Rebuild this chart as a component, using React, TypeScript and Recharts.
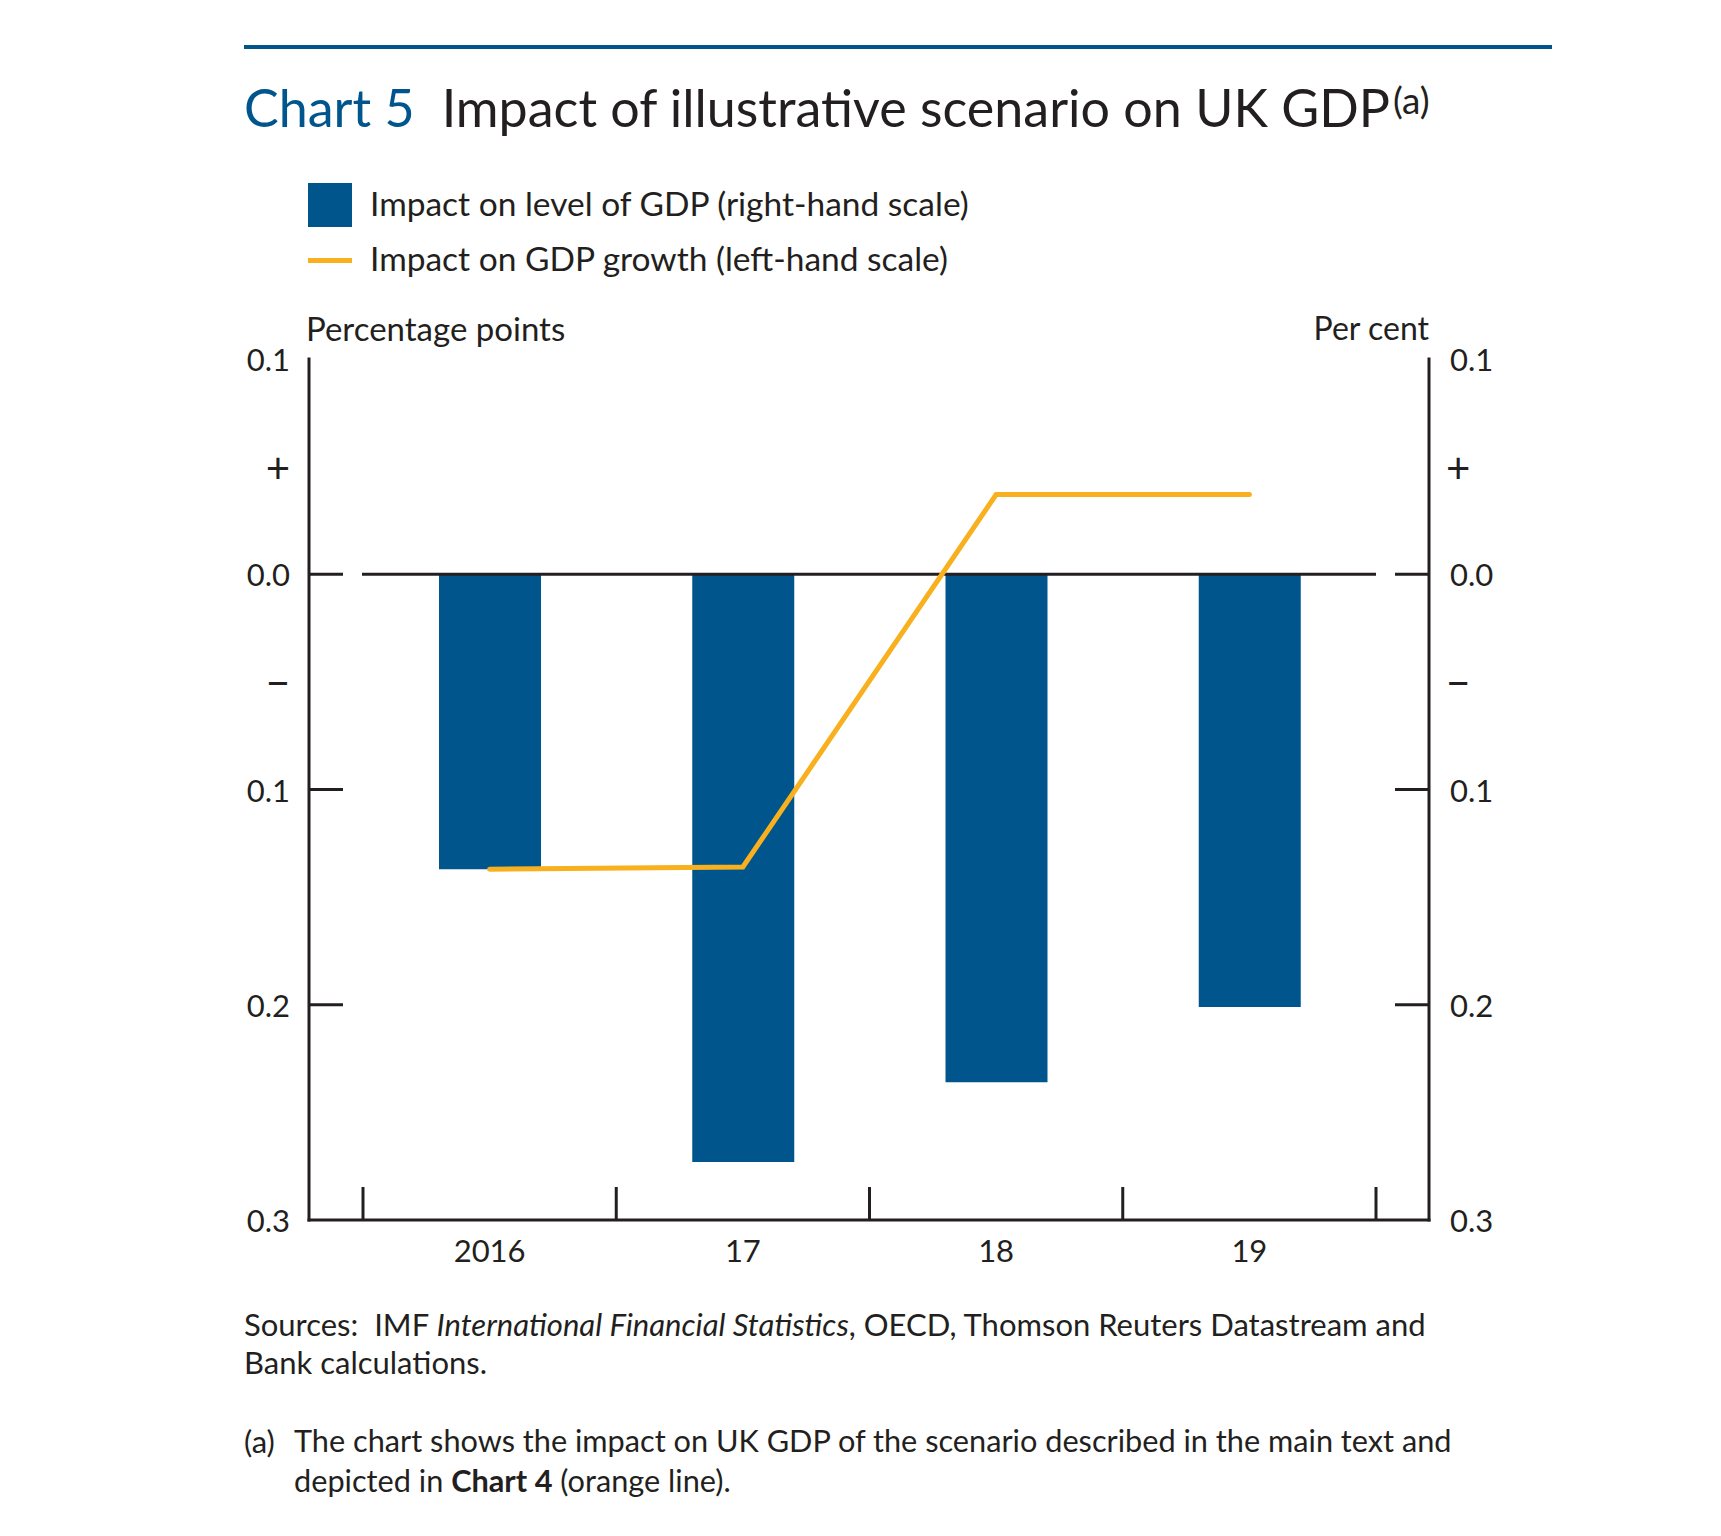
import { ComposedChart, Bar, Line, XAxis, YAxis, ReferenceLine } from "recharts";

// years on the x axis
const years = ["2016", "17", "18", "19"];
// impact on level of GDP, per cent (right-hand scale)
const levelImpact = [-0.137, -0.273, -0.236, -0.201];
// impact on GDP growth, percentage points (left-hand scale)
const growthImpact = [-0.137, -0.136, 0.037, 0.037];
const yTicks = [0.1, 0.05, 0, -0.05, -0.1, -0.2, -0.3];
const markedTicks = [0, -0.1, -0.2];

const data = years.map((year, i) => ({
  year,
  level: levelImpact[i],
  growth: growthImpact[i],
}));

const BLUE = "#00568C";
const ORANGE = "#F9B01E";
const INK = "#231F20";
const FONT = "Lato, 'Noto Sans', sans-serif";

function tickText(v: number) {
  if (Math.abs(v - 0.05) < 1e-9) return "+";
  if (Math.abs(v + 0.05) < 1e-9) return "\u2212";
  return Math.abs(v).toFixed(1);
}

function isSign(v: number) {
  return Math.abs(Math.abs(v) - 0.05) < 1e-9;
}

function hasMark(v: number) {
  return markedTicks.some((m) => Math.abs(m - v) < 1e-9);
}

const LeftTick = (props: any) => {
  const { x, y, payload } = props;
  const sign = isSign(payload.value);
  return (
    <g>
      {hasMark(payload.value) && (
        <line x1={x} x2={x + 34} y1={y} y2={y} stroke={INK} strokeWidth={3} />
      )}
      <text x={x - 19} y={y} textAnchor="end" dominantBaseline="central" fontSize={sign ? 42 : 31} fill={INK} fontFamily={FONT}>
        {tickText(payload.value)}
      </text>
    </g>
  );
};

const RightTick = (props: any) => {
  const { x, y, payload } = props;
  const sign = isSign(payload.value);
  return (
    <g>
      {hasMark(payload.value) && (
        <line x1={x - 34} x2={x} y1={y} y2={y} stroke={INK} strokeWidth={3} />
      )}
      <text x={x + (sign ? 17 : 21)} y={y} textAnchor="start" dominantBaseline="central" fontSize={sign ? 42 : 31} fill={INK} fontFamily={FONT}>
        {tickText(payload.value)}
      </text>
    </g>
  );
};

const YearTick = (props: any) => {
  const { x, y, payload, index } = props;
  const off = payload.offset || 0;
  return (
    <g>
      <line x1={x - off} x2={x - off} y1={y} y2={y - 33} stroke={INK} strokeWidth={3} />
      {index === years.length - 1 && (
        <line x1={x + off} x2={x + off} y1={y} y2={y - 33} stroke={INK} strokeWidth={3} />
      )}
      <text x={x} y={y + 30} textAnchor="middle" dominantBaseline="central" fontSize={31} fill={INK} fontFamily={FONT}>
        {payload.value}
      </text>
    </g>
  );
};

const ZeroLine = (p: any) => {
  const a = Math.min(p.x1, p.x2);
  const b = Math.max(p.x1, p.x2);
  return <line x1={a + 53} x2={b - 53} y1={p.y1} y2={p.y2} stroke={INK} strokeWidth={3} />;
};

const abs = (s: any) => ({ position: "absolute" as const, ...s });

export default function App() {
  return (
    <div style={abs({ left: 0, top: 0, width: 1721, height: 1536, background: "#fff", fontFamily: FONT, color: INK })}>
      <div style={abs({ left: 244, top: 45, width: 1308, height: 4, background: BLUE })} />
      <div style={abs({ left: 244, top: 80.5, fontSize: 52, lineHeight: 1, whiteSpace: "nowrap" })}>
        <span style={{ color: BLUE }}>Chart 5</span>
        <span style={{ marginLeft: 27 }}>Impact of illustrative scenario on UK GDP</span>
        <span style={{ fontSize: 37, position: "relative", top: -13, marginLeft: 3 }}>(a)</span>
      </div>

      <div style={abs({ left: 308, top: 183, width: 44, height: 44, background: BLUE })} />
      <div style={abs({ left: 370, top: 186.5, fontSize: 33.5, lineHeight: 1, whiteSpace: "nowrap" })}>
        Impact on level of GDP (right-hand scale)
      </div>
      <div style={abs({ left: 308, top: 258, width: 44, height: 5, background: ORANGE })} />
      <div style={abs({ left: 370, top: 241.5, fontSize: 33.5, lineHeight: 1, whiteSpace: "nowrap" })}>
        Impact on GDP growth (left-hand scale)
      </div>

      <div style={abs({ left: 306, top: 312, fontSize: 33, lineHeight: 1, whiteSpace: "nowrap" })}>
        Percentage points
      </div>
      <div style={abs({ right: 1721 - 1429, top: 312, fontSize: 32, lineHeight: 1, whiteSpace: "nowrap" })}>
        Per cent
      </div>

      <div style={abs({ left: 0, top: 300 })}>
        <ComposedChart
          width={1721}
          height={1000}
          data={data}
          margin={{ top: 59, right: 0, bottom: 0, left: 0 }}
        >
          <XAxis
            dataKey="year"
            height={80}
            padding={{ left: 54, right: 53 }}
            tickSize={0}
            tickMargin={0}
            tickLine={false}
            interval={0}
            tick={<YearTick />}
            axisLine={{ stroke: INK, strokeWidth: 3, strokeLinecap: "square" }}
          />
          <XAxis
            xAxisId="top"
            dataKey="year"
            orientation="top"
            height={0}
            tick={false}
            tickLine={false}
            axisLine={{ stroke: INK, strokeWidth: 3, strokeLinecap: "square" }}
          />
          <YAxis
            yAxisId="left"
            orientation="left"
            width={309}
            domain={[-0.3, 0.1]}
            ticks={yTicks}
            interval={0}
            allowDataOverflow
            tickSize={0}
            tickMargin={0}
            tickLine={false}
            tick={<LeftTick />}
            axisLine={{ stroke: INK, strokeWidth: 3, strokeLinecap: "square" }}
          />
          <YAxis
            yAxisId="right"
            orientation="right"
            width={292}
            domain={[-0.3, 0.1]}
            ticks={yTicks}
            interval={0}
            allowDataOverflow
            tickSize={0}
            tickMargin={0}
            tickLine={false}
            tick={<RightTick />}
            axisLine={{ stroke: INK, strokeWidth: 3, strokeLinecap: "square" }}
          />
          <Bar dataKey="level" yAxisId="right" fill={BLUE} barSize={102} isAnimationActive={false} />
          <ReferenceLine y={0} yAxisId="left" shape={ZeroLine} />
          <Line
            dataKey="growth"
            yAxisId="left"
            type="linear"
            stroke={ORANGE}
            strokeWidth={5}
            strokeLinecap="round"
            dot={false}
            isAnimationActive={false}
          />
        </ComposedChart>
      </div>

      <div style={abs({ left: 244, top: 1305, fontSize: 31, lineHeight: "38px", whiteSpace: "nowrap" })}>
        Sources:&nbsp; IMF <i>International Financial Statistics</i>, OECD, Thomson Reuters Datastream and
        <br />
        Bank calculations.
      </div>
      <div style={abs({ left: 244, top: 1421, fontSize: 31, lineHeight: "40px", whiteSpace: "nowrap" })}>(a)</div>
      <div style={abs({ left: 294, top: 1421, fontSize: 30.7, lineHeight: "40px", whiteSpace: "nowrap" })}>
        The chart shows the impact on UK GDP of the scenario described in the main text and
        <br />
        depicted in <b>Chart 4</b> (orange line).
      </div>
    </div>
  );
}
